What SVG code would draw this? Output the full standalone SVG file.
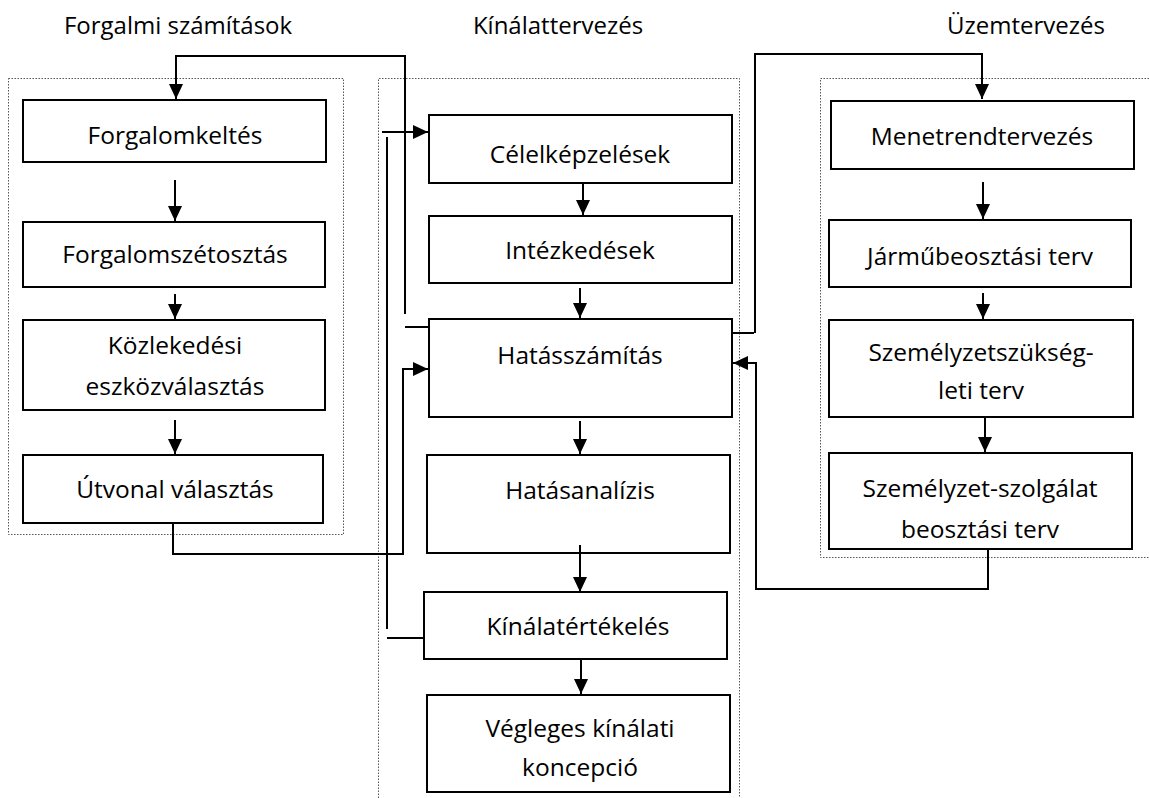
<svg xmlns="http://www.w3.org/2000/svg" width="1149" height="798" viewBox="0 0 1149 798">
  <style>
    .box { fill: #fff; stroke: #000; stroke-width: 2; }
    .frame { fill: none; stroke: #555; stroke-width: 1; stroke-dasharray: 1.5 1.5; }
    .lbl { font-family: "Open Sans", "Noto Sans", sans-serif; font-size: 24.5px; fill: #000; text-anchor: middle; }
    .ttl { font-family: "Open Sans", "Noto Sans", sans-serif; font-size: 24px; fill: #000; text-anchor: middle; }
    .ln { fill: none; stroke: #000; stroke-width: 2; }
    .arr { fill: none; stroke: #000; stroke-width: 2; marker-end: url(#head); }
  </style>
  <defs>
    <marker id="head" markerUnits="userSpaceOnUse" markerWidth="16" markerHeight="16" viewBox="0 0 16 16" refX="15" refY="8" orient="auto">
      <path d="M0,1 L15,8 L0,15 Z" fill="#000"/>
    </marker>
  </defs>
  <rect width="1149" height="798" fill="#fff"/>

  <!-- column titles -->
  <text class="ttl" x="178" y="34">Forgalmi számítások</text>
  <text class="ttl" x="558" y="34">Kínálattervezés</text>
  <text class="ttl" x="1026" y="34">Üzemtervezés</text>

  <!-- dotted group frames -->
  <rect class="frame" x="8.5" y="78.5" width="335" height="456"/>
  <path class="frame" d="M378.5,798 V78.5 H739.5 V798"/>
  <path class="frame" d="M1149,78.5 H820.5 V557.5 H1149"/>

  <!-- Forgalmi számítások -->
  <g id="forgalomkeltes">
    <rect class="box" x="23" y="100" width="303" height="62"/>
    <text class="lbl" x="175" y="144">Forgalomkeltés</text>
  </g>
  <g id="forgalomszetosztas">
    <rect class="box" x="23" y="222" width="302" height="65"/>
    <text class="lbl" x="175" y="263">Forgalomszétosztás</text>
  </g>
  <g id="eszkozvalasztas">
    <rect class="box" x="23" y="320" width="302" height="90"/>
    <text class="lbl" x="175" y="354">Közlekedési</text>
    <text class="lbl" x="175" y="395">eszközválasztás</text>
  </g>
  <g id="utvonalvalasztas">
    <rect class="box" x="23" y="455" width="300" height="68"/>
    <text class="lbl" x="175" y="498">Útvonal választás</text>
  </g>

  <!-- Kínálattervezés -->
  <g id="celelkepzelesek">
    <rect class="box" x="429" y="115" width="303" height="68"/>
    <text class="lbl" x="580" y="163">Célelképzelések</text>
  </g>
  <g id="intezkedesek">
    <rect class="box" x="429" y="216" width="303" height="67"/>
    <text class="lbl" x="580" y="259">Intézkedések</text>
  </g>
  <g id="hatasszamitas">
    <rect class="box" x="429" y="319" width="303" height="98"/>
    <text class="lbl" x="580" y="364">Hatásszámítás</text>
  </g>
  <g id="hatasanalizis">
    <rect class="box" x="427" y="455" width="303" height="98"/>
    <text class="lbl" x="580" y="499">Hatásanalízis</text>
  </g>
  <g id="kinalatertekeles">
    <rect class="box" x="424" y="592" width="303" height="67"/>
    <text class="lbl" x="578" y="635">Kínálatértékelés</text>
  </g>
  <g id="vegleges">
    <rect class="box" x="427" y="695" width="303" height="97"/>
    <text class="lbl" x="580" y="737">Végleges kínálati</text>
    <text class="lbl" x="580" y="776">koncepció</text>
  </g>

  <!-- Üzemtervezés -->
  <g id="menetrendtervezes">
    <rect class="box" x="831" y="101" width="303" height="68"/>
    <text class="lbl" x="982" y="145">Menetrendtervezés</text>
  </g>
  <g id="jarmubeosztas">
    <rect class="box" x="829" y="220" width="302" height="67"/>
    <text class="lbl" x="980" y="265">Járműbeosztási terv</text>
  </g>
  <g id="szemelyzetszukseglet">
    <rect class="box" x="829" y="320" width="304" height="97"/>
    <text class="lbl" x="981" y="361">Személyzetszükség-</text>
    <text class="lbl" x="981" y="399">leti terv</text>
  </g>
  <g id="szemelyzetszolgalat">
    <rect class="box" x="829" y="453" width="303" height="96"/>
    <text class="lbl" x="980" y="497">Személyzet-szolgálat</text>
    <text class="lbl" x="980" y="538">beosztási terv</text>
  </g>

  <!-- connectors -->
  <g id="connectors">
    <!-- left column -->
    <line class="arr" x1="175" y1="180" x2="175" y2="221"/>
    <line class="arr" x1="175" y1="294" x2="175" y2="319"/>
    <line class="arr" x1="175" y1="420" x2="175" y2="454"/>
    <!-- middle column -->
    <line class="arr" x1="583" y1="183" x2="583" y2="215"/>
    <line class="arr" x1="580" y1="288" x2="580" y2="318"/>
    <line class="arr" x1="580" y1="421" x2="580" y2="454"/>
    <line class="arr" x1="580" y1="545" x2="580" y2="592"/>
    <line class="arr" x1="581" y1="659" x2="581" y2="694"/>
    <!-- right column -->
    <line class="arr" x1="983" y1="182" x2="983" y2="219"/>
    <line class="arr" x1="983" y1="293" x2="983" y2="319"/>
    <line class="arr" x1="985" y1="417" x2="985" y2="452"/>

    <!-- Hatásszámítás feedback to Forgalomkeltés -->
    <path class="ln" d="M429,327 H405"/>
    <path class="arr" d="M405,314 V56 H176 V99"/>
    <!-- Útvonal választás into Hatásszámítás -->
    <path class="arr" d="M173,522 V554 H403 V369 H428"/>
    <!-- Kínálatértékelés back to Célelképzelések -->
    <path class="ln" d="M424,638 H387"/>
    <path class="ln" d="M387,629 V137"/>
    <line class="arr" x1="382" y1="132" x2="428" y2="132"/>
    <!-- Hatásszámítás to Menetrendtervezés -->
    <path class="ln" d="M732,333 H754"/>
    <path class="arr" d="M755,333 V54 H982 V99"/>
    <!-- Személyzet-szolgálat back to Hatásszámítás -->
    <path class="arr" d="M988,549 V589 H756 V363 H733"/>
  </g>
</svg>
